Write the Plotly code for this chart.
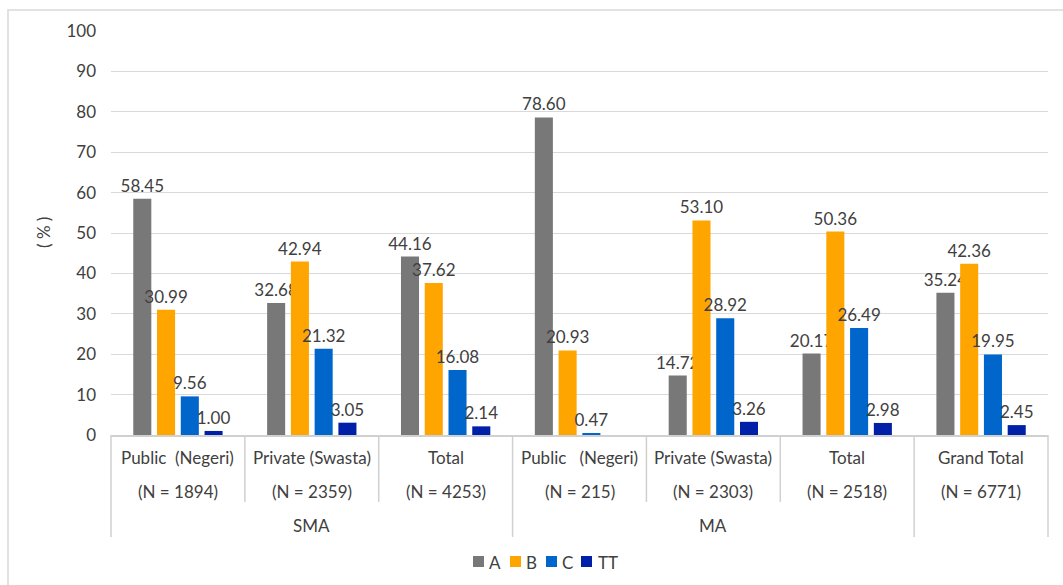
import plotly.graph_objects as go

# ---------------- data ----------------
groups = ["SMA", "SMA", "SMA", "MA", "MA", "MA", ""]
sub_labels = ["Public\u00a0 (Negeri)", "Private (Swasta)", "Total",
              "Public\u00a0\u00a0 (Negeri)", "Private (Swasta)", "Total", "Grand Total"]
n_labels = ["(N = 1894)", "(N = 2359)", "(N = 4253)",
            "(N = 215)", "(N = 2303)", "(N = 2518)", "(N = 6771)"]

series_names = ["A", "B", "C", "TT"]
A = [58.45, 32.68, 44.16, 78.60, 14.72, 20.17, 35.24]
B = [30.99, 42.94, 37.62, 20.93, 53.10, 50.36, 42.36]
C = [9.56, 21.32, 16.08, 0.47, 28.92, 26.49, 19.95]
TT = [1.00, 3.05, 2.14, None, 3.26, 2.98, 2.45]
series_values = [A, B, C, TT]
colors = ["#787878", "#FFA500", "#0066CC", "#0020A8"]

y_ticks = [0, 10, 20, 30, 40, 50, 60, 70, 80, 90, 100]

# ---------------- layout helpers ----------------
W, H = 1063, 585
ML, MR, MT, MB = 111, 15, 31, 150
PW, PH = W - ML - MR, H - MT - MB
y0pix = MT + PH

def px_x(p):
    return (p - ML) / PW

def px_y(p):
    return (y0pix - p) / PH

keys = [f"{g}|{s}|{i}" for i, (g, s) in enumerate(zip(groups, sub_labels))]
n = len(keys)

FS = 17
FONT = dict(family="Lato", size=FS, color="#404040")

fig = go.Figure()
for name, vals, col in zip(series_names, series_values, colors):
    fig.add_trace(go.Bar(
        x=keys, y=vals, name=name, marker_color=col,
        marker_line_width=0,
        text=[("" if v is None else f"{v:.2f}") for v in vals],
        textposition="outside", cliponaxis=False, constraintext="none",
        textfont=FONT,
        showlegend=False,
    ))

annotations = []
shapes = []

# category labels
for i in range(n):
    xc = (i + 0.5) / n
    annotations.append(dict(x=xc, y=px_y(457), xref="paper", yref="paper",
                            text=sub_labels[i], showarrow=False, font=FONT,
                            xanchor="center", yanchor="middle"))
    annotations.append(dict(x=xc, y=px_y(492), xref="paper", yref="paper",
                            text=n_labels[i], showarrow=False, font=FONT,
                            xanchor="center", yanchor="middle"))

# group labels and separators
start = 0
spans = []
for i in range(1, n + 1):
    if i == n or groups[i] != groups[start]:
        spans.append((start, i, groups[start]))
        start = i
for s, e, g in spans:
    if g:
        annotations.append(dict(x=((s + e) / 2) / n, y=px_y(525), xref="paper", yref="paper",
                                text=g, showarrow=False, font=FONT,
                                xanchor="center", yanchor="middle"))

LINE = dict(color="#d0d0d0", width=1.5)
outer = set()
for s, e, g in spans:
    outer.add(s)
    outer.add(e)
for b in range(n + 1):
    bottom = px_y(537) if b in outer else px_y(502)
    shapes.append(dict(type="line", xref="paper", yref="paper",
                       x0=b / n, x1=b / n, y0=0, y1=bottom, line=LINE))

# outer border of the figure
shapes.append(dict(type="rect", xref="paper", yref="paper",
                   x0=px_x(8), x1=px_x(1075), y0=px_y(10), y1=px_y(600),
                   line=dict(color="#d9d9d9", width=1.5), layer="below"))

# y axis title
annotations.append(dict(x=px_x(43), y=0.5, xref="paper", yref="paper",
                        text="( % )", textangle=-90, showarrow=False, font=FONT,
                        xanchor="center", yanchor="middle"))

# manual legend
leg_sq = [473, 510, 546, 581]
leg_tx = [487, 524, 560, 596]
for name, col, sx, tx in zip(series_names, colors, leg_sq, leg_tx):
    shapes.append(dict(type="rect", xref="paper", yref="paper",
                       x0=px_x(sx), x1=px_x(sx + 11), y0=px_y(567), y1=px_y(556),
                       fillcolor=col, line=dict(width=0)))
    annotations.append(dict(x=px_x(tx), y=px_y(562), xref="paper", yref="paper",
                            text=name, showarrow=False, font=FONT,
                            xanchor="left", yanchor="middle"))

fig.update_layout(
    width=W, height=H,
    margin=dict(l=ML, r=MR, t=MT, b=MB, pad=0),
    paper_bgcolor="white", plot_bgcolor="white",
    barmode="group", bargap=0.29, bargroupgap=0.24,
    font=FONT,
    annotations=annotations, shapes=shapes,
    xaxis=dict(showticklabels=False, ticks="", showgrid=False,
               showline=True, linecolor="#d0d0d0", linewidth=1.5,
               range=[-0.5, n - 0.5]),
    yaxis=dict(range=[0, 100], tickvals=y_ticks, showgrid=True,
               gridcolor="#d9d9d9", gridwidth=1, zeroline=False,
               showline=False, ticks="", ticklabelstandoff=14,
               tickfont=FONT),
)

fig.write_html("out.html")
